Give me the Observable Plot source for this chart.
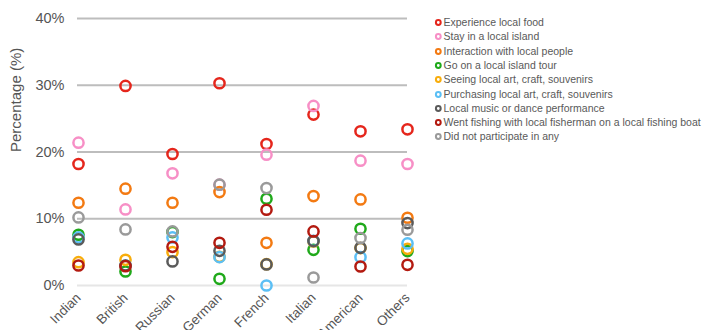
<!DOCTYPE html>
<html>
<head>
<meta charset="utf-8">
<script src="https://cdn.jsdelivr.net/npm/d3@7"></script>
<script src="https://cdn.jsdelivr.net/npm/@observablehq/plot@0.6"></script>
<style>
  html, body { margin: 0; padding: 0; background: #fff; }
  #chart { position: relative; width: 705px; height: 330px; overflow: hidden; font-family: "Liberation Sans", Arial, Helvetica, sans-serif; }
  #legend { position: absolute; left: 434px; top: 15px; }
  .row { position: absolute; left: 0; height: 14px; display: flex; align-items: center; white-space: nowrap; font-size: 10.5px; color: #595959; }
  .row svg { flex: none; }
</style>
</head>
<body>
<div id="chart"></div>
<script>
// Nationalities along the x axis
const categories = ["Indian", "British", "Russian", "German", "French", "Italian", "American", "Others"];

// Activity names (legend order) and their colours
const activities = [
  "Experience local food",
  "Stay in a local island",
  "Interaction with local people",
  "Go on a local island tour",
  "Seeing local art, craft, souvenirs",
  "Purchasing local art, craft, souvenirs",
  "Local music or dance performance",
  "Went fishing with local fisherman on a local fishing boat",
  "Did not participate in any"
];
const colors = ["#e5261c", "#f78fc6", "#f37a12", "#1fa91a", "#f8ad0c", "#5bbff5", "#5a5a5a", "#b31a10", "#9a9a9a"];

// Share of each nationality taking part in each activity (%)
const localFood      = [18.2, 29.9, 19.7, 30.3, 21.2, 25.6, 23.1, 23.4];
const localIsland    = [21.4, 11.4, 16.8, 15.1, 19.6, 26.9, 18.7, 18.2];
const localPeople    = [12.4, 14.5, 12.4, 14.0, 6.4, 13.4, 12.9, 10.15];
const islandTour     = [7.6, 2.1, 8.0, 1.0, 13.0, 5.35, 8.5, 5.15];
const seeingArt      = [3.5, 3.85, 5.0, 4.3, 3.2, 6.6, 5.6, 5.5];
const purchasingArt  = [7.2, 3.0, 7.2, 4.25, 0.0, 6.7, 4.25, 6.3];
const musicDance     = [6.9, 3.0, 3.6, 5.2, 3.15, 6.65, 5.65, 9.35];
const fishingTrip    = [3.0, 2.9, 5.8, 6.4, 11.35, 8.1, 2.85, 3.1];
const noneOfThem     = [10.2, 8.4, 8.1, 15.1, 14.6, 1.2, 7.1, 8.35];

const yTicks = [0, 10, 20, 30, 40];

const series = [localFood, localIsland, localPeople, islandTour, seeingArt, purchasingArt, musicDance, fishingTrip, noneOfThem];

// Long-format rows, series by series so later activities sit on top
const rows = [];
series.forEach((vals, s) => {
  vals.forEach((v, i) => rows.push({nationality: categories[i], activity: activities[s], value: v}));
});

const plot = Plot.plot({
  width: 430,
  height: 330,
  marginLeft: 77,
  marginRight: 23,
  marginTop: 18,
  marginBottom: 45,
  style: {fontFamily: '"Liberation Sans", Arial, Helvetica, sans-serif', color: "#555", background: "transparent", overflow: "visible"},
  x: {type: "point", domain: categories, padding: 0},
  y: {domain: [0, 40]},
  color: {domain: activities, range: colors},
  marks: [
    Plot.ruleY(yTicks.filter(d => d > 0), {stroke: "#bdbdbd", strokeWidth: 2}),
    Plot.ruleY([0], {stroke: "#e6e6e6", strokeWidth: 2}),
    Plot.axisY({ticks: yTicks, tickFormat: d => d + "%", tickSize: 0, tickPadding: 13, fontSize: 14.5, label: null}),
    Plot.axisX({tickSize: 0, tickPadding: 10, tickRotate: -45, fontSize: 13.5, label: null}),
    Plot.text(["Percentage (%)"], {frameAnchor: "left", dx: -61, rotate: -90, fontSize: 15, fill: "#555"}),
    Plot.dot(rows, {x: "nationality", y: "value", stroke: "activity", r: 5.1, strokeWidth: 2.5, fill: "none"})
  ]
});

const chart = document.getElementById("chart");
chart.appendChild(plot);

// Legend with small open-circle swatches
const legend = document.createElement("div");
legend.id = "legend";
activities.forEach((name, i) => {
  const row = document.createElement("div");
  row.className = "row";
  row.style.top = (i * 14.3) + "px";
  row.innerHTML = `<svg width="9.5" height="14"><circle cx="4.3" cy="7.5" r="2.4" fill="white" stroke="${colors[i]}" stroke-width="2"/></svg><span>${name}</span>`;
  legend.appendChild(row);
});
chart.appendChild(legend);
</script>
</body>
</html>
